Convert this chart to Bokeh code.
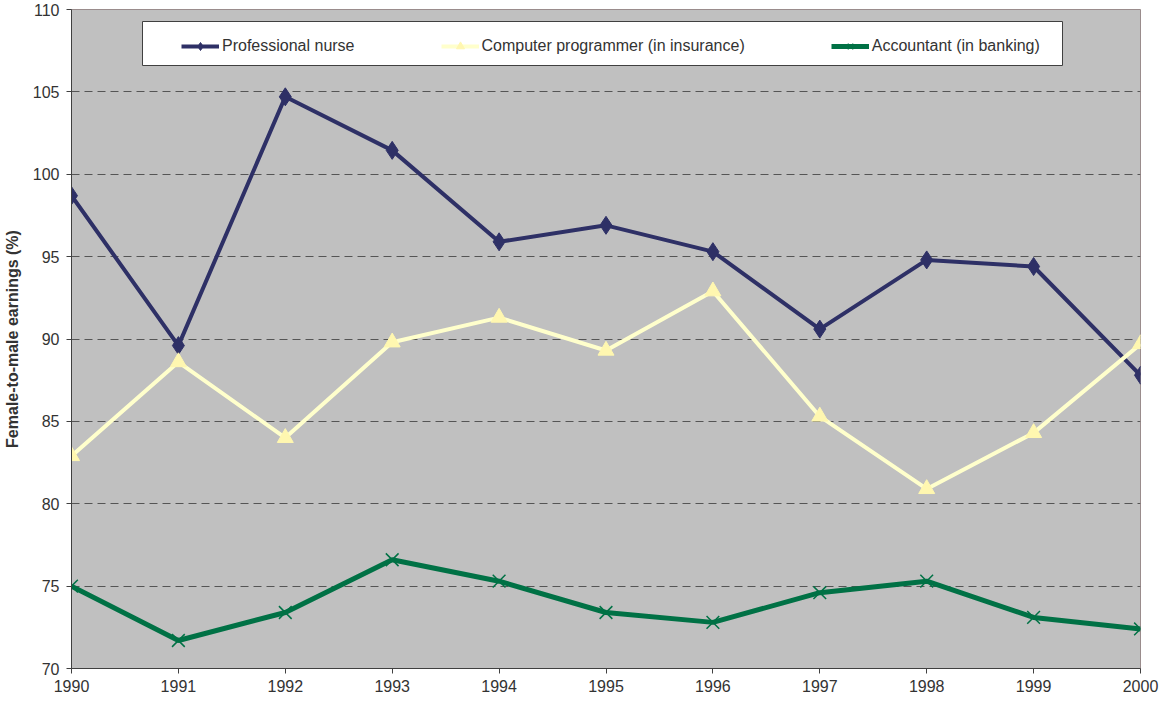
from bokeh.plotting import figure
from bokeh.models import Range1d, FixedTicker, Legend, LegendItem, BoxAnnotation
from bokeh.embed import file_html
from bokeh.resources import INLINE

years = [1990, 1991, 1992, 1993, 1994, 1995, 1996, 1997, 1998, 1999, 2000]
nurse = [98.7, 89.6, 104.7, 101.45, 95.9, 96.9, 95.3, 90.6, 94.8, 94.4, 87.8]
programmer = [82.9, 88.6, 84.0, 89.8, 91.3, 89.3, 92.9, 85.3, 80.9, 84.3, 89.7]
accountant = [75.0, 71.7, 73.4, 76.6, 75.3, 73.4, 72.8, 74.6, 75.3, 73.1, 72.4]
y_ticks = [70, 75, 80, 85, 90, 95, 100, 105, 110]
labels = ["Professional nurse", "Computer programmer (in insurance)", "Accountant (in banking)"]

FONT = "Liberation Sans"

p = figure(width=1159, height=699, output_backend="svg", toolbar_location=None,
           x_range=Range1d(1990, 2000), y_range=Range1d(70, 110),
           min_border_left=70, min_border_right=19, min_border_top=9, min_border_bottom=31)

p.background_fill_color = "#c0c0c0"
p.border_fill_color = "white"
p.outline_line_color = "#9a8c8c"
p.outline_line_width = 1

# grid
p.xgrid.grid_line_color = None
p.ygrid.ticker = FixedTicker(ticks=y_ticks[1:-1])
p.ygrid.grid_line_color = "#555555"
p.ygrid.grid_line_dash = "8 5"
p.ygrid.grid_line_width = 1

# axes
for ax in (p.xaxis[0], p.yaxis[0]):
    ax.axis_line_color = "#404040"
    ax.major_tick_line_color = "#404040"
    ax.major_tick_out = 5
    ax.major_tick_in = 0
    ax.minor_tick_line_color = None
    ax.major_label_text_font = FONT
    ax.major_label_text_font_size = "16px"
    ax.major_label_text_color = "#333333"

p.xaxis[0].ticker = FixedTicker(ticks=years)
p.xaxis[0].major_label_standoff = 6
p.yaxis[0].ticker = FixedTicker(ticks=y_ticks)
p.yaxis[0].major_label_standoff = 7
p.yaxis[0].axis_label = "Female-to-male earnings (%)"
p.yaxis[0].axis_label_text_font = FONT
p.yaxis[0].axis_label_text_font_size = "16px"
p.yaxis[0].axis_label_text_font_style = "bold"
p.yaxis[0].axis_label_text_color = "#333333"
p.yaxis[0].axis_label_standoff = 9

# series
l1 = p.line(years, nurse, line_color="#2e3066", line_width=4)
s1 = p.scatter(years, nurse, marker="diamond", size=18, fill_color="#2e3066", line_color="#2e3066")

l2 = p.line(years, programmer, line_color="#ffffcc", line_width=4)
s2 = p.scatter(years, programmer, marker="triangle", size=16, fill_color="#fff7b0", line_color="#fff7b0")

l3 = p.line(years, accountant, line_color="#007145", line_width=5)
s3 = p.scatter(years, accountant, marker="x", size=18, line_color="#007145", line_width=1.5)

# legend frame (screen units relative to the plot frame, y measured from its bottom)
box = BoxAnnotation(left=71, right=991, top=647, bottom=603,
                    left_units="screen", right_units="screen", top_units="screen", bottom_units="screen",
                    fill_color="white", fill_alpha=1, line_color="#404040", line_width=1, line_alpha=1)
p.add_layout(box)

legend = Legend(items=[
    LegendItem(label=labels[0], renderers=[l1, s1]),
    LegendItem(label=labels[1], renderers=[l2, s2]),
    LegendItem(label=labels[2], renderers=[l3, s3]),
], orientation="horizontal", location=(110, 612), padding=0, spacing=86,
   glyph_width=38, glyph_height=20, label_standoff=3, margin=0,
   label_text_font=FONT, label_text_font_size="16px", label_text_color="#333333",
   border_line_alpha=0, background_fill_alpha=0)
p.add_layout(legend, "center")

open("out.html", "w").write(file_html(p, INLINE))
